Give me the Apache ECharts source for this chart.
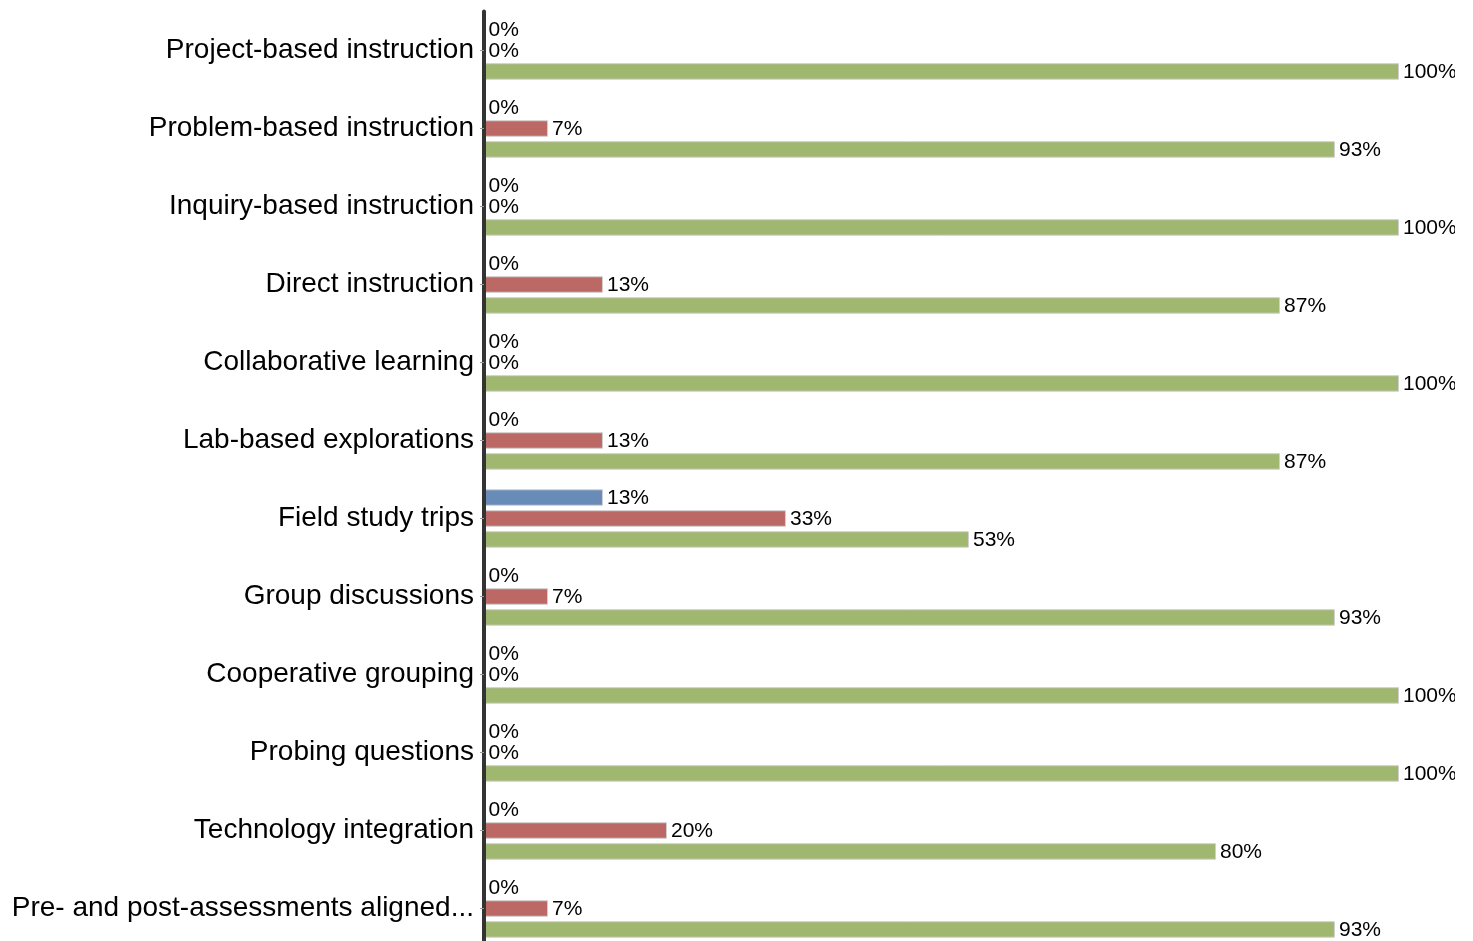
<!DOCTYPE html>
<html>
<head>
<meta charset="utf-8">
<script src="https://cdn.jsdelivr.net/npm/echarts@6/dist/echarts.min.js"></script>
<style>
  html, body { margin: 0; padding: 0; background: #fff; overflow: hidden; }
  #frame { width: 1455px; height: 941px; overflow: hidden; }
  #chart { width: 1455px; height: 970px; }
</style>
</head>
<body>
<div id="frame"><div id="chart"></div></div>
<script>
// Teaching strategies, share of responses per rating (percent)
const categories = [
  'Project-based instruction',
  'Problem-based instruction',
  'Inquiry-based instruction',
  'Direct instruction',
  'Collaborative learning',
  'Lab-based explorations',
  'Field study trips',
  'Group discussions',
  'Cooperative grouping',
  'Probing questions',
  'Technology integration',
  'Pre- and post-assessments aligned...'
];
const blueValues  = [0, 0, 0, 0, 0, 0, 13, 0, 0, 0, 0, 0];
const redValues   = [0, 7, 0, 13, 0, 13, 33, 7, 0, 0, 20, 7];
const greenValues = [100, 93, 100, 87, 100, 87, 53, 93, 100, 100, 80, 93];

const colors = ['#688CB7', '#BC6864', '#A0B770'];

const chart = echarts.init(document.getElementById('chart'), null, { renderer: 'canvas' });

function barSeries(values, color) {
  return {
    type: 'bar',
    data: values,
    barWidth: 16.5,
    barGap: '27%',
    itemStyle: { color: color, borderColor: '#d0d0d0', borderWidth: 1 },
    label: {
      show: true,
      position: 'right',
      distance: 4,
      offset: [0, 1],
      formatter: p => p.value + '%',
      fontFamily: 'Liberation Sans, Arial, sans-serif',
      fontSize: 21,
      color: '#000'
    },
    animation: false
  };
}

chart.setOption({
  animation: false,
  backgroundColor: '#fff',
  grid: { left: 484, top: 11.5, width: 915, height: 936, containLabel: false },
  xAxis: {
    type: 'value',
    min: 0,
    max: 100,
    show: false
  },
  yAxis: {
    type: 'category',
    data: categories,
    inverse: true,
    offset: 2,
    z: 10,
    axisLine: { show: true, lineStyle: { color: '#333', width: 4 } },
    axisTick: { show: true, alignWithLabel: true, length: 4, lineStyle: { color: '#999', width: 1 } },
    axisLabel: {
      margin: 8,
      padding: [4, 0, 0, 0],
      fontFamily: 'Liberation Sans, Arial, sans-serif',
      fontSize: 28,
      color: '#000'
    },
    splitLine: { show: false }
  },
  series: [
    barSeries(blueValues, colors[0]),
    barSeries(redValues, colors[1]),
    barSeries(greenValues, colors[2])
  ]
});
</script>
</body>
</html>
